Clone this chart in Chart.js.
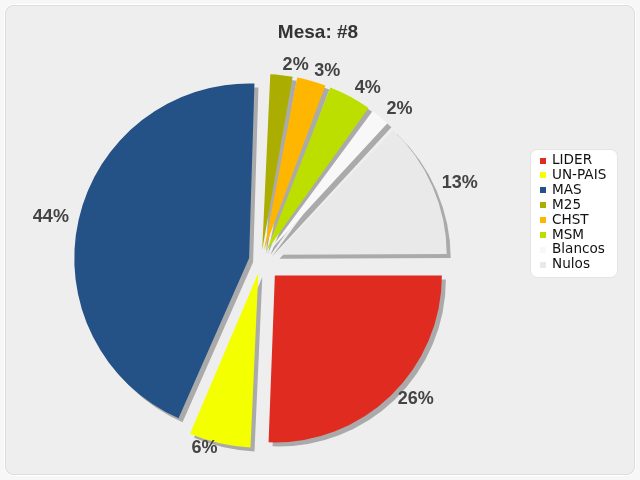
<!DOCTYPE html>
<html>
<head>
<meta charset="utf-8">
<title>Mesa: #8</title>
<script src="https://cdn.jsdelivr.net/npm/chart.js@4"></script>
<style>
    html, body { margin: 0; padding: 0; background: #f7f7f7; }
    canvas { display: block; }
</style>
</head>
<body>
<canvas id="mesaChart" width="640" height="480"></canvas>
<script>
// Datos de la mesa (porcentajes, se muestran redondeados)
const titulo = 'Mesa: #8';
const partidos = ['LIDER', 'UN-PAIS', 'MAS', 'M25', 'CHST', 'MSM', 'Blancos', 'Nulos'];
const porcentajes = [25.6, 5.9, 44.1, 2.3, 2.9, 4.2, 2.0, 13.0];
const colores = ['#e02b20', '#f4ff00', '#245287', '#abae00', '#ffb600', '#bcdf00', '#f8f8f8', '#e9e9e9'];

const EXPLODE = 20;     // separación de cada porción
const LABEL_GAP = 10;   // distancia de la etiqueta al borde

const total = porcentajes.reduce((a, b) => a + b, 0);

// Chart.js mueve el arco offset/4 * (1 + fix); se compensa para que todas salgan EXPLODE px
function offsetPara(valor) {
    const circ = valor / total * 2 * Math.PI;
    const fix = 1 - Math.sin(Math.min(Math.PI, circ));
    return 4 * EXPLODE / (1 + fix);
}

const fondo = {
    id: 'fondo',
    beforeDraw(chart) {
        const c = chart.ctx;
        c.save();
        c.fillStyle = '#f7f7f7';
        c.fillRect(0, 0, chart.width, chart.height);
        c.beginPath();
        c.roundRect(4.5, 4.5, 631, 471, 9);
        c.fillStyle = '#eeeeee';
        c.fill();
        c.strokeStyle = '#ffffff';
        c.lineWidth = 1;
        c.stroke();
        c.beginPath();
        c.roundRect(5.5, 5.5, 629, 469, 8);
        c.strokeStyle = '#dddddd';
        c.stroke();
        // título
        c.font = 'bold 19px "Liberation Sans", Arial, sans-serif';
        c.fillStyle = '#333333';
        c.textAlign = 'center';
        c.textBaseline = 'middle';
        c.fillText(titulo, 318, 33);
        c.restore();
    }
};

const sombra = {
    id: 'sombra',
    beforeDatasetDraw(chart) {
        const c = chart.ctx;
        c.save();
        c.shadowColor = '#aaaaaa';
        c.shadowOffsetX = 4;
        c.shadowOffsetY = 4;
        c.shadowBlur = 0;
    },
    afterDatasetDraw(chart) {
        chart.ctx.restore();
    }
};

const etiquetas = {
    id: 'etiquetas',
    afterDatasetsDraw(chart) {
        const c = chart.ctx;
        const arcs = chart.getDatasetMeta(0).data;
        c.save();
        c.font = 'bold 18px "Liberation Sans", Arial, sans-serif';
        c.fillStyle = '#444444';
        c.textBaseline = 'middle';
        arcs.forEach((arc, i) => {
            const mid = (arc.startAngle + arc.endAngle) / 2;
            const cos = Math.cos(mid);
            const sin = Math.sin(mid);
            const r = EXPLODE + arc.outerRadius + LABEL_GAP;
            c.textAlign = cos >= 0 ? 'left' : 'right';
            const y = arc.y + sin * r - Math.max(0, sin) * 5;
            c.fillText(Math.round(porcentajes[i]) + '%', arc.x + cos * r, y);
        });
        c.restore();
    }
};

const leyenda = {
    id: 'leyenda',
    afterDraw(chart) {
        const c = chart.ctx;
        c.save();
        c.beginPath();
        c.roundRect(530.5, 149.5, 87, 128, 7);
        c.fillStyle = '#ffffff';
        c.fill();
        c.strokeStyle = '#e4e4e4';
        c.stroke();
        c.font = '13.6px "DejaVu Sans", Verdana, sans-serif';
        c.textAlign = 'left';
        c.textBaseline = 'middle';
        partidos.forEach((p, i) => {
            const y = 160.5 + i * 14.9;
            c.fillStyle = colores[i];
            c.fillRect(540, Math.round(y) - 3, 6, 6);
            c.fillStyle = '#111111';
            c.fillText(p, 552, y);
        });
        c.restore();
    }
};

new Chart(document.getElementById('mesaChart'), {
    type: 'pie',
    data: {
        labels: partidos,
        datasets: [{
            data: porcentajes,
            backgroundColor: colores,
            borderWidth: 0,
            offset: porcentajes.map(offsetPara),
            hoverOffset: 0,
            rotation: 90,
            radius: 167
        }]
    },
    options: {
        responsive: false,
        animation: false,
        events: [],
        layout: {
            padding: { left: 10, right: 128, top: 52, bottom: 10 }
        },
        plugins: {
            legend: { display: false },
            title: { display: false },
            tooltip: { enabled: false }
        }
    },
    plugins: [fondo, sombra, etiquetas, leyenda]
});
</script>
</body>
</html>
